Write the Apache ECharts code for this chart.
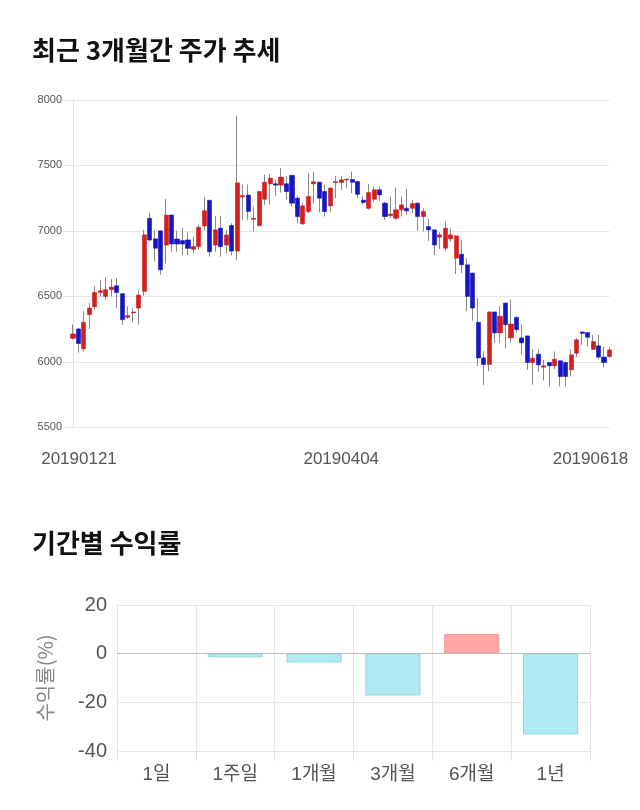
<!DOCTYPE html>
<html><head><meta charset="utf-8">
<script src="https://cdn.jsdelivr.net/npm/echarts/dist/echarts.min.js"></script>
<style>html,body{margin:0;padding:0;background:#fff}#c{width:640px;height:810px}</style>
</head><body><div id="c"></div>
<script>
// ---- Price data (daily candles) ----
const openP  = [6180,6251,6100,6360,6420,6530,6500,6551,6581,6520,6340,6375,6411,6538,7096,6939,7000,6892,7121,6938,6926,6931,6859,6880,7038,7233,6892,7021,6892,7041,6846,7259,7274,7090,7041,7242,7360,7360,7350,7360,7424,7250,7054,7148,7360,7372,7301,7191,7370,7370,7390,7393,7377,7235,7173,7242,7314,7212,7117,7097,7161,7173,7173,7212,7110,7033,7008,6952,6868,6939,6792,6822,6741,6678,6302,6030,5980,6381,6221,6449,6183,6340,6183,6198,5995,6058,5959,5995,5970,6008,5995,5939,6066,6228,6223,6096,6122,6036,6041];
const closeP = [6213,6140,6302,6411,6530,6543,6551,6571,6530,6322,6353,6380,6510,6970,6931,6868,6703,7121,6900,6900,6900,6867,6880,7028,7154,6841,7008,6880,6969,6846,7367,7269,7149,7095,7301,7372,7403,7350,7411,7301,7212,7110,7191,7263,7375,7250,7148,7327,7375,7390,7395,7372,7280,7217,7293,7314,7275,7110,7128,7161,7199,7153,7209,7110,7148,7008,6893,6970,7020,6970,6962,6741,6500,6411,6030,5980,6381,6221,6348,6284,6289,6246,6145,5995,6028,5977,5970,5970,6020,5888,5888,6053,6168,6218,6188,6155,6036,5995,6091];
const lowP   = [6170,6070,6080,6250,6400,6500,6475,6500,6411,6284,6327,6302,6284,6505,6920,6767,6665,6751,6841,6841,6815,6815,6828,6859,7003,6803,6841,6803,6828,6815,6777,7085,7085,6995,7033,7199,7199,7268,7293,7237,7186,7059,7046,7135,7212,7140,7110,7148,7250,7314,7326,7288,7250,7204,7161,7219,7229,7084,7097,7084,7110,7122,7135,7000,6995,6923,6816,6863,6848,6919,6670,6678,6386,6315,5967,5822,5929,6145,6145,6102,6145,6221,6056,5939,5825,5926,5858,5812,5944,5812,5812,5888,6036,6130,6117,6090,6020,5959,6030];
const highP  = [6285,6260,6386,6450,6576,6627,6647,6632,6640,6525,6424,6411,6551,7008,7140,7008,7005,7244,7125,7003,7020,6987,6956,7046,7259,7240,7115,7115,7008,7059,7880,7354,7354,7187,7305,7429,7436,7390,7480,7421,7429,7268,7217,7441,7454,7378,7352,7334,7421,7421,7403,7454,7380,7263,7357,7339,7332,7224,7263,7332,7263,7321,7237,7215,7173,7092,7010,6990,7071,7020,6965,6931,6792,6680,6487,6081,6385,6385,6424,6452,6475,6345,6284,6200,6096,6096,6015,6000,6079,6010,6000,6096,6180,6228,6228,6206,6206,6117,6112];
const tickIndex  = [0, 49, 98];
const tickLabels = ['20190121', '20190404', '20190618'];
const priceTicks = [5500, 8000, 500]; // min, max, step

// ---- Period returns ----
const retCats = ['1일', '1주일', '1개월', '3개월', '6개월', '1년'];
const retVals = [0, -1.5, -3.6, -17.2, 8.1, -33.2];
const retTicks = [-40, 20, 20];

const chart = echarts.init(document.getElementById('c'), null, {renderer: 'canvas'});
const NUMF = "'Liberation Sans', 'Noto Sans CJK KR', sans-serif";
const KRF = "'Noto Sans CJK KR', sans-serif";

const categories = openP.map((_, i) => String(i));
const wickData = openP.map((o, i) => { const m = (o + closeP[i]) / 2; return [m, m, lowP[i], highP[i]]; });
const bodyData = openP.map((o, i) => [o, closeP[i], Math.min(o, closeP[i]), Math.max(o, closeP[i])]);

const RED = '#d21f1f', BLUE = '#1616c4';

const option = {
  animation: false,
  backgroundColor: '#fff',
  title: [
    {text: '최근 3개월간 주가 추세', left: 32, top: 37, padding: 0,
     textStyle: {fontSize: 26, fontWeight: 'bold', color: '#111', fontFamily: KRF}},
    {text: '기간별 수익률', left: 32, top: 530, padding: 0,
     textStyle: {fontSize: 26, fontWeight: 'bold', color: '#111', fontFamily: KRF}}
  ],
  grid: [
    {left: 73, right: 30.5, top: 100, bottom: 382.7},
    {left: 117, right: 50, top: 605, bottom: 59}
  ],
  xAxis: [
    {type: 'category', gridIndex: 0, data: categories, boundaryGap: false,
     axisLine: {show: false}, axisTick: {show: false}, splitLine: {show: false},
     axisLabel: {
       interval: (idx) => tickIndex.includes(idx),
       formatter: (v, idx) => {
         const k = tickIndex.indexOf(Number(v));
         if (k < 0) return '';
         if (k === 0) return '{a|' + tickLabels[k] + '}';
         if (k === tickLabels.length - 1) return '{c|' + tickLabels[k] + '}';
         return '{b|' + tickLabels[k] + '}';
       },
       margin: 24, color: '#555', fontSize: 17, fontFamily: NUMF,
       rich: {
         a: {fontSize: 17, color: '#555', fontFamily: NUMF, padding: [0, 0, 0, 12]},
         b: {fontSize: 17, color: '#555', fontFamily: NUMF},
         c: {fontSize: 17, color: '#555', fontFamily: NUMF, padding: [0, 38, 0, 0]}
       }
     }},
    {type: 'category', gridIndex: 1, data: retCats, boundaryGap: true,
     axisLine: {show: false, onZero: false},
     axisTick: {show: true, length: 10, lineStyle: {color: '#e4e4e4'}},
     splitLine: {show: true, lineStyle: {color: '#e6e6e6'}},
     axisLabel: {color: '#555', fontSize: 19, fontFamily: NUMF, margin: 14}}
  ],
  yAxis: [
    {type: 'value', gridIndex: 0, min: priceTicks[0], max: priceTicks[1], interval: priceTicks[2],
     axisLine: {show: true, lineStyle: {color: '#dedede'}},
     axisTick: {show: true, length: 10, lineStyle: {color: '#e4e4e4'}},
     splitLine: {show: true, lineStyle: {color: '#e6e6e6'}},
     axisLabel: {color: '#555', fontSize: 11, fontFamily: NUMF, margin: 11, formatter: (v) => String(v)}},
    {type: 'value', gridIndex: 1, min: retTicks[0], max: retTicks[1], interval: retTicks[2],
     axisLine: {show: false}, axisTick: {show: false},
     splitLine: {show: true, lineStyle: {color: '#e6e6e6'}},
     axisLabel: {color: '#555', fontSize: 20, fontFamily: NUMF, margin: 10},
     name: '수익률(%)', nameLocation: 'middle', nameGap: 62, nameRotate: 90,
     nameTextStyle: {color: '#888', fontSize: 20, fontFamily: KRF}}
  ],
  series: [
    {type: 'candlestick', xAxisIndex: 0, yAxisIndex: 0, data: wickData, barWidth: 4.6,
     itemStyle: {color: '#8a8a8a', color0: '#8a8a8a', borderColor: '#8a8a8a', borderColor0: '#8a8a8a', borderColorDoji: '#8a8a8a', borderWidth: 1}},
    {type: 'candlestick', xAxisIndex: 0, yAxisIndex: 0, data: bodyData, barWidth: 4.6,
     itemStyle: {color: RED, color0: BLUE, borderColor: RED, borderColor0: BLUE, borderColorDoji: '#222', borderWidth: 0.6}},
    {type: 'bar', xAxisIndex: 1, yAxisIndex: 1, barWidth: '70%',
     data: retVals.map(v => ({value: v, itemStyle: v === 0
        ? {color: 'transparent', borderWidth: 0}
        : v > 0
        ? {color: '#ffa6a6', borderColor: '#f39595', borderWidth: 1}
        : {color: '#b1e9f2', borderColor: '#95d7e3', borderWidth: 1}})),
     markLine: {silent: true, symbol: 'none', label: {show: false},
       lineStyle: {color: '#bdbdbd', width: 1, type: 'solid'}, data: [{yAxis: 0}]}}
  ]
};
chart.setOption(option);
</script>
</body></html>
